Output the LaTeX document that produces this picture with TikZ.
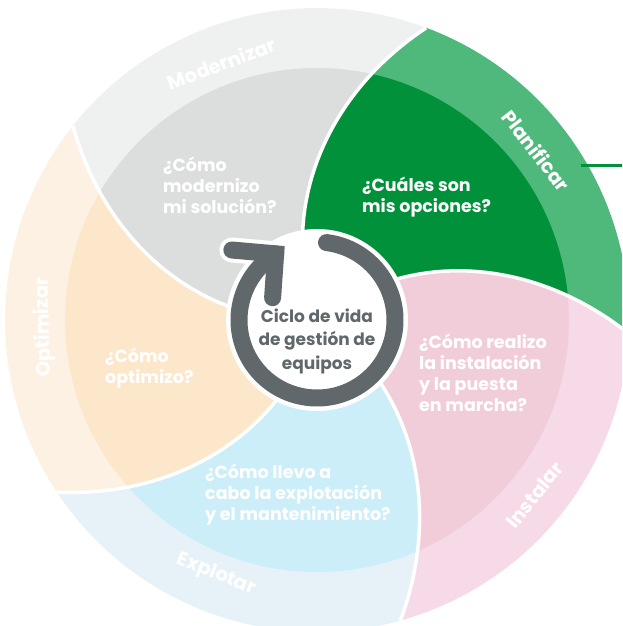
\documentclass[tikz,border=0pt]{standalone}
\usepackage{fontspec}
\setmainfont{Poppins}
\usetikzlibrary{calc}
\definecolor{modband}{RGB}{239, 241, 240}
\definecolor{modin}{RGB}{220, 221, 221}
\definecolor{planband}{RGB}{79, 185, 124}
\definecolor{planin}{RGB}{0, 145, 58}
\definecolor{instband}{RGB}{247, 218, 231}
\definecolor{instin}{RGB}{241, 205, 218}
\definecolor{explband}{RGB}{230, 241, 248}
\definecolor{explin}{RGB}{204, 238, 248}
\definecolor{optband}{RGB}{252, 241, 226}
\definecolor{optin}{RGB}{252, 231, 203}
\definecolor{ring}{RGB}{97, 104, 107}
% one wedge of the wheel, #1 = outer angle of its first edge
\newcommand{\wedgepath}[1]{(0,0) -- plot[domain=0:1, samples=30] ({#1+30.5-31*\x}:{80+232*\x})
  arc[start angle=#1-0.5, end angle=#1+71.5, radius=312]
  -- plot[domain=1:0, samples=30] ({#1+102.5-31*\x}:{80+232*\x}) -- cycle}

\begin{document}
\begin{tikzpicture}[x=1pt, y=1pt]
    \tikzstyle{sepline} = [draw=white, line width=3.5pt];
    \tikzstyle{question} = [text=white, align=left, anchor=west, inner sep=0pt,
    font=\fontsize{17.5}{21}\selectfont\bfseries];
    \tikzstyle{phase} = [text=white, inner sep=0pt, font=\fontsize{19.5}{22}\selectfont\bfseries];
    \tikzstyle{hubtext} = [text=ring, align=center, inner sep=0pt,
    font=\fontsize{17}{23.5}\selectfont\bfseries];
    \tikzstyle{arrowline} = [draw=ring, line width=17pt, line cap=round];
    \useasboundingbox (-317,-306) rectangle (305,320);
    \clip (-317,-306) rectangle (305,320);
      % % Wedges, band and inner part
      \foreach \ang/\band/\inn in {358/planband/planin, 70/modband/modin, 142/optband/optin,
        214/explband/explin, 286/instband/instin} {
        \fill[\band] \wedgepath{\ang};
        \begin{scope}
          \clip (0,0) circle (252);
          \fill[\inn] \wedgepath{\ang};
        \end{scope}
      }
      % % White edges between the wedges
      \foreach \ang in {70,142,214,286,358}
        \draw[sepline] plot[domain=0:1, samples=30] ({\ang+30.5-31*\x}:{80+232*\x});
      % Lead out of Planificar
      \coordinate (leadstart) at (264,154);
      \coordinate (leadend) at (310,154);
      \draw[planin, line width=3pt] (leadstart) -- (leadend);
      % Questions
      \node[question] (qplan) at (45,123) {¿Cuáles son\\mis opciones?};
      \node[question] (qmod) at (-154,135) {¿Cómo\\modernizo\\mi solución?};
      \node[question] (qopt) at (-212,-48) {¿Cómo\\optimizo?};
      \node[question] (qexpl) at (-112,-175) {¿Cómo llevo a\\cabo la explotación\\y el mantenimiento?};
      \node[question] (qinst) at (102,-53) {¿Cómo realizo\\la instalación\\y la puesta\\en marcha?};
      % Phase names on the band
      \node[phase, rotate=-52.3] (planificar) at (37.7:277) {Planificar};
      \node[phase, rotate=20.4] (modernizar) at (110.4:274) {Modernizar};
      \node[phase, rotate=91.5] (optimizar) at (181.5:273) {Optimizar};
      \node[phase, rotate=-21.6] (explotar) at (248.4:274) {Explotar};
      \node[phase, rotate=51.2] (instalar) at (-38.8:279) {Instalar};
      % Hub with the cycle arrow
      \fill[white] (0,0) circle (91);
      \coordinate (tip) at (122:78);
      \coordinate (armleft) at ($(tip)+(175:44)$);
      \coordinate (armdown) at ($(tip)+(266:44)$);
      \draw[arrowline, draw=white, line width=25pt] (armleft) -- (tip) -- (armdown);
      \draw[arrowline] (83:78) arc[start angle=83, end angle=-238, radius=78];
      \draw[arrowline] (armleft) -- (tip) -- (armdown);
      \node[hubtext] (hub) at (0,-21) {Ciclo de vida\\de gestión de\\equipos};
\end{tikzpicture}
\end{document}
